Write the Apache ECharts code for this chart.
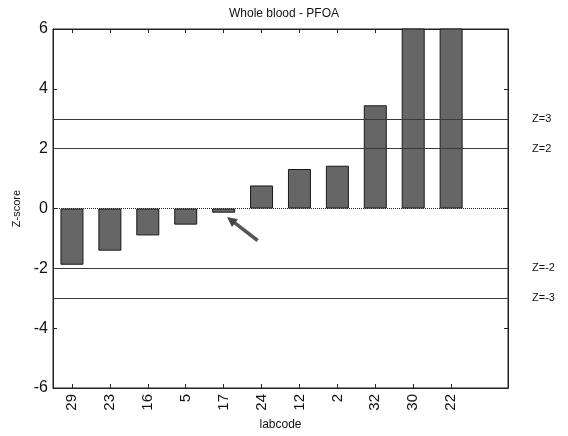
<!DOCTYPE html>
<html>
<head>
<meta charset="utf-8">
<script src="https://cdn.jsdelivr.net/npm/echarts@6/dist/echarts.min.js"></script>
<style>
html,body{margin:0;padding:0;background:#fff;}
#chart{width:568px;height:436px;}
</style>
</head>
<body>
<div id="chart"></div>
<script>
// Lab codes in ranked order, plus a trailing empty slot on the axis
const labcodes = ['29', '23', '16', '5', '17', '24', '12', '2', '32', '30', '22', ''];
// Z-scores per lab (the last two run off the top of the axis)
const zScores = [-1.88, -1.41, -0.9, -0.54, -0.14, 0.77, 1.32, 1.43, 3.45, 7.1, 8.3];
// Acceptance limits drawn as horizontal reference lines
const limits = [3, 2, -2, -3];
const limitLabels = ['Z=3', 'Z=2', 'Z=-2', 'Z=-3'];
const yTicks = [-6, -4, -2, 0, 2, 4, 6];
const highlighted = '17';

const font = '"Liberation Sans", Arial, sans-serif';
const chart = echarts.init(document.getElementById('chart'));

// plot box with a full frame
const grid = {
  left: 53, right: 60, top: 29, bottom: 44, containLabel: false,
  show: true, borderColor: '#222', borderWidth: 1, backgroundColor: 'transparent'
};

const limitLines = limits.map((v, i) => ({
  yAxis: v,
  label: {formatter: limitLabels[i]},
  lineStyle: {type: 'solid', color: '#3a3a3a', width: 1}
}));
limitLines.push({
  yAxis: 0,
  label: {show: false},
  lineStyle: {type: 'dotted', color: '#222', width: 1}
});

// ticks only under labelled categories
const tickAt = (i, v) => v !== '';
const frameLine = {show: true, onZero: false, lineStyle: {color: '#222', width: 1}};
const inTick = {show: true, inside: true, length: 4, lineStyle: {color: '#222'}};

chart.setOption({
  animation: false,
  title: {
    text: 'Whole blood - PFOA',
    left: 'center', top: 3,
    textStyle: {fontFamily: font, fontSize: 12, fontWeight: 'normal', color: '#111'}
  },
  grid: grid,
  xAxis: [{
    type: 'category',
    data: labcodes,
    position: 'bottom',
    name: 'labcode',
    nameLocation: 'middle',
    nameGap: 31,
    nameTextStyle: {fontFamily: font, fontSize: 12, color: '#111'},
    axisLine: frameLine,
    axisTick: Object.assign({alignWithLabel: true, interval: tickAt}, inTick),
    axisLabel: {rotate: 90, fontFamily: font, fontSize: 15, color: '#111', margin: 6, interval: 0},
    splitLine: {show: false}
  }, {
    type: 'category',
    data: labcodes,
    position: 'top',
    axisLine: frameLine,
    axisTick: Object.assign({alignWithLabel: true, interval: tickAt}, inTick),
    axisLabel: {show: false}
  }],
  yAxis: [{
    type: 'value',
    min: -6, max: 6, interval: 2,
    position: 'left',
    name: 'Z-score',
    nameLocation: 'middle',
    nameGap: 31,
    nameRotate: 90,
    nameTextStyle: {fontFamily: font, fontSize: 11, color: '#111'},
    axisLine: frameLine,
    axisTick: inTick,
    axisLabel: {fontFamily: font, fontSize: 16, color: '#111', margin: 5},
    splitLine: {show: false}
  }, {
    type: 'value',
    min: -6, max: 6, interval: 2,
    position: 'right',
    axisLine: frameLine,
    axisTick: inTick,
    axisLabel: {show: false},
    splitLine: {show: false}
  }],
  series: [{
    type: 'bar',
    data: zScores,
    barWidth: 23,
    clip: true,
    itemStyle: {color: '#666666', borderColor: '#1a1a1a', borderWidth: 1},
    markLine: {
      silent: true,
      symbol: 'none',
      animation: false,
      label: {
        position: 'end', distance: 24,
        fontFamily: font, fontSize: 11, color: '#111'
      },
      data: limitLines
    }
  }]
});

// Arrow pointing at the highlighted lab's bar
const idx = labcodes.indexOf(highlighted);
const tip = chart.convertToPixel({gridIndex: 0}, [idx, 0]);
const tipX = tip[0] + 4, tipY = tip[1] + 9;
const tailX = tipX + 30, tailY = tipY + 23;
const ang = Math.atan2(tipY - tailY, tipX - tailX);
const hl = 9, hw = 4.5;
const bx = tipX - hl * Math.cos(ang), by = tipY - hl * Math.sin(ang);
chart.setOption({
  graphic: [{
    type: 'line',
    shape: {x1: tailX, y1: tailY, x2: bx, y2: by},
    style: {stroke: '#555', lineWidth: 3.5}
  }, {
    type: 'polygon',
    shape: {points: [
      [tipX, tipY],
      [bx + hw * Math.sin(ang), by - hw * Math.cos(ang)],
      [bx - hw * Math.sin(ang), by + hw * Math.cos(ang)]
    ]},
    style: {fill: '#444', stroke: '#222', lineWidth: 0.5}
  }]
});
</script>
</body>
</html>
